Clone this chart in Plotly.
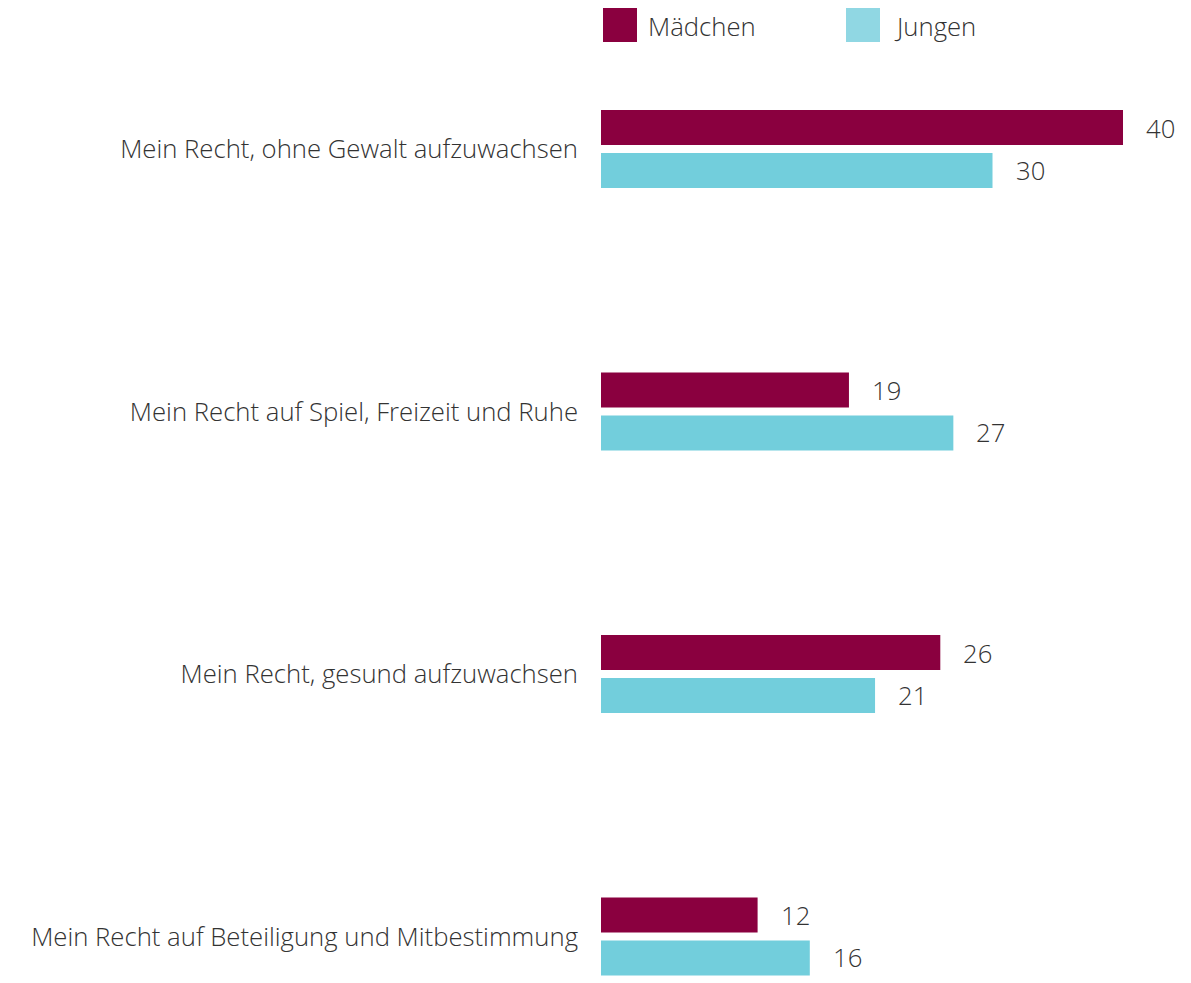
import plotly.graph_objects as go

categories = [
    "Mein Recht, ohne Gewalt aufzuwachsen",
    "Mein Recht auf Spiel, Freizeit und Ruhe",
    "Mein Recht, gesund aufzuwachsen",
    "Mein Recht auf Beteiligung und Mitbestimmung",
]
maedchen = [40, 19, 26, 12]
jungen = [30, 27, 21, 16]
series_names = ["Mädchen", "Jungen"]

C_M = "#8A003F"
C_J = "#72CEDC"
C_J_LEG = "#90D7E3"
FONT = "Open Sans"
TXT = "#333333"
FS = 25.7
FW = 300

OFF = 8  # page body margin
W, H = 1191 - OFF, 983 - OFF
L, R, T, B = 601 - OFF, 0, 50 - OFF, 0
pw, ph = W - L - R, H - T - B
px_per_unit = 13.05
first_center, spacing = 149 - OFF, 262.5

font = dict(family=FONT, size=FS, color=TXT, weight=FW)

fig = go.Figure()
fig.add_trace(go.Bar(y=categories, x=maedchen, orientation="h", name=series_names[0],
                     marker=dict(color=C_M, line=dict(width=0)), showlegend=False))
fig.add_trace(go.Bar(y=categories, x=jungen, orientation="h", name=series_names[1],
                     marker=dict(color=C_J, line=dict(width=0)), showlegend=False))

annotations = []
for cat, m, j in zip(categories, maedchen, jungen):
    annotations.append(dict(x=m, y=cat, text=str(m), showarrow=False, xanchor="left",
                            xshift=21, yshift=21, font=font))
    annotations.append(dict(x=j, y=cat, text=str(j), showarrow=False, xanchor="left",
                            xshift=21, yshift=-21, font=font))

def px2x(p):
    return (p - OFF - L) / pw

def py2y(p):
    return (H - B - (p - OFF)) / ph

shapes = [
    dict(type="rect", xref="paper", yref="paper", x0=px2x(603), x1=px2x(637),
         y0=py2y(42), y1=py2y(8), fillcolor=C_M, line=dict(width=0)),
    dict(type="rect", xref="paper", yref="paper", x0=px2x(846), x1=px2x(880),
         y0=py2y(42), y1=py2y(8), fillcolor=C_J_LEG, line=dict(width=0)),
]
annotations.append(dict(xref="paper", yref="paper", x=px2x(646), y=py2y(26), text=series_names[0],
                        showarrow=False, xanchor="left", yanchor="middle", font=font))
annotations.append(dict(xref="paper", yref="paper", x=px2x(892), y=py2y(26), text=series_names[1],
                        showarrow=False, xanchor="left", yanchor="middle", font=font))

y_top = (T - first_center) / spacing
y_bot = (H - B - first_center) / spacing

fig.update_layout(
    width=W, height=H,
    margin=dict(l=L, r=R, t=T, b=B, pad=0),
    paper_bgcolor="white", plot_bgcolor="white",
    barmode="group", bargap=0.672, bargroupgap=0.186,
    shapes=shapes, annotations=annotations,
    font=font,
    xaxis=dict(range=[0, pw / px_per_unit], visible=False, showgrid=False, zeroline=False),
    yaxis=dict(range=[y_bot, y_top], showgrid=False, zeroline=False, showline=False,
               ticks="", ticklabelstandoff=22, tickfont=font),
)

fig.write_html("out.html")
